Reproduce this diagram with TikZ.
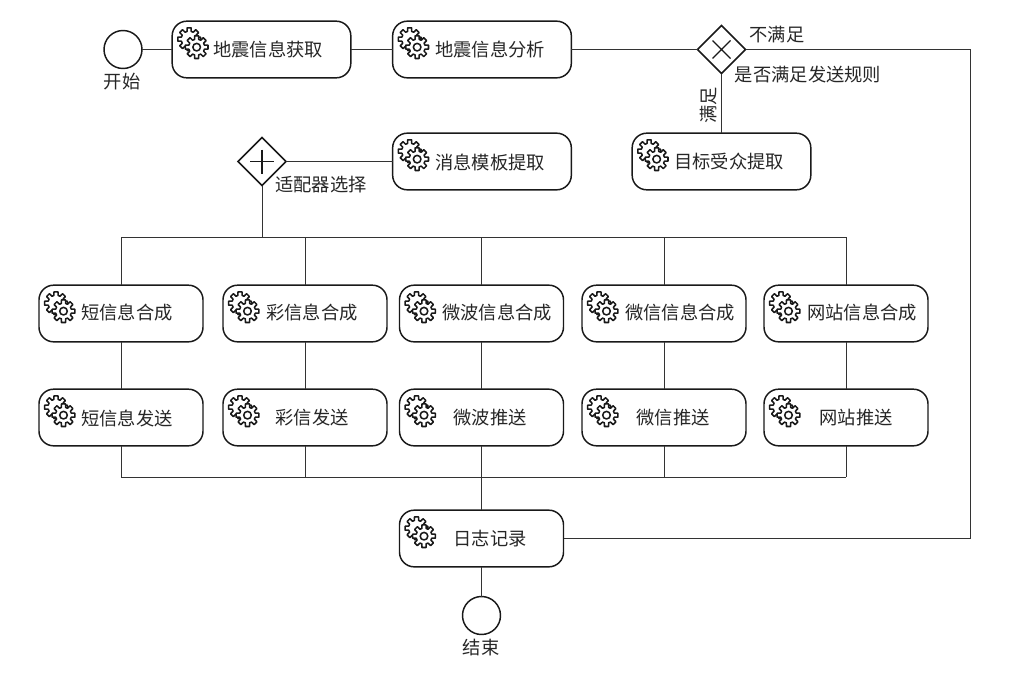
\documentclass[tikz,border=0pt]{standalone}
\usepackage{fontspec}
\usepackage{tikz}
\usetikzlibrary{shapes.geometric}
\newfontfamily\cjk{Noto Sans CJK SC}

\tikzset{
	gearline/.style={line width=1.15pt, fill=white, line join=round},
	gearwheel/.pic={
		\draw[gearline] (-15:8) foreach \a in {0,45,...,315} {-- (\a-15:8) -- (\a-10:11.5) -- (\a+10:11.5) -- (\a+15:8)} -- cycle;
	},
	gearicon/.pic={
		\pic at (11,11) {gearwheel};
		\pic at (18.5,19) {gearwheel};
		\draw[gearline] (18.5,19) circle (3.8);
	},
	taskbox/.style={draw=black!90, line width=1.1pt, rounded corners=11pt, minimum height=42.5pt, inner sep=0pt, outer sep=0pt,
		path picture={\pic[rounded corners=0pt] at ([shift={(6,7)}]path picture bounding box.north west) {gearicon};}},
	widebox/.style={taskbox, minimum width=134pt},
	smallbox/.style={taskbox, minimum width=123pt},
	event/.style={circle, draw=black!90, line width=1.1pt, minimum size=28.5pt, inner sep=0pt, outer sep=0pt},
	gate/.style={diamond, aspect=1, draw=black!90, line width=1.1pt, minimum width=36pt, minimum height=36pt, inner sep=0pt, outer sep=0pt},
	xgate/.style={gate, path picture={\draw[line width=1pt] (path picture bounding box.center) ++(-9,-9) -- ++(18,18) ++(-18,0) -- ++(18,-18);}},
	plusgate/.style={gate, path picture={\draw[line width=1pt] (path picture bounding box.center) ++(-12,0) -- ++(24,0) ++(-12,-12) -- ++(0,24);}},
	txt/.style={font=\cjk\fontsize{13.7}{16}\selectfont, text=black!85, inner sep=0pt},
	conn/.style={line width=0.7pt, draw=black!80}
}

\begin{document}
\begin{tikzpicture}[x=0.75pt, y=-0.75pt]
	\useasboundingbox (0,0) rectangle (1018,675);
	% top row
	\node[event] (start) at (123,49.5) {};
	\node[txt] (startlbl) at (122,82) {开始};
	\node[widebox] (dzhq) at (261.5,49.5) {};
	\node[txt] (dzhqlbl) at (268,50) {地震信息获取};
	\node[widebox] (dzfx) at (482,49.5) {};
	\node[txt] (dzfxlbl) at (490,50) {地震信息分析};
	\node[xgate] (rule) at (721.5,49.5) {};
	\node[txt] (nolbl) at (777,35) {不满足};
	\node[txt] (rulelbl) at (808,75) {是否满足发送规则};
	\node[txt, rotate=90] (yeslbl) at (709,105) {满足};
	\node[widebox] (mbsz) at (721.5,161.5) {};
	\node[txt] (mbszlbl) at (729,162) {目标受众提取};
	% adapter
	\node[widebox] (xxmb) at (482,161.5) {};
	\node[txt] (xxmblbl) at (490,162) {消息模板提取};
	\node[plusgate] (adapter) at (262,161.5) {};
	\node[txt] (adapterlbl) at (321,185) {适配器选择};
	% channel tasks
	\node[smallbox] (dxhc) at (121,313.5) {};
	\node[txt] (dxhclbl) at (127,313) {短信息合成};
	\node[smallbox] (dxfs) at (121,417.5) {};
	\node[txt] (dxfslbl) at (127,418) {短信息发送};
	\node[smallbox] (cxhc) at (305,313.5) {};
	\node[txt] (cxhclbl) at (312,313) {彩信息合成};
	\node[smallbox] (cxfs) at (305,417.5) {};
	\node[txt] (cxfslbl) at (312,418) {彩信发送};
	\node[smallbox] (wbhc) at (481.5,313.5) {};
	\node[txt] (wbhclbl) at (497,313) {微波信息合成};
	\node[smallbox] (wbfs) at (481.5,417.5) {};
	\node[txt] (wbfslbl) at (490,418) {微波推送};
	\node[smallbox] (wxhc) at (664,313.5) {};
	\node[txt] (wxhclbl) at (680,313) {微信信息合成};
	\node[smallbox] (wxfs) at (664,417.5) {};
	\node[txt] (wxfslbl) at (673,418) {微信推送};
	\node[smallbox] (wzhc) at (846,313.5) {};
	\node[txt] (wzhclbl) at (862,313) {网站信息合成};
	\node[smallbox] (wzfs) at (846,417.5) {};
	\node[txt] (wzfslbl) at (856,418) {网站推送};
	% end
	\node[smallbox] (rzjl) at (481.5,538.5) {};
	\node[txt] (rzjllbl) at (490,539) {日志记录};
	\node[event] (stop) at (481.5,615.5) {};
	\node[txt] (stoplbl) at (481,648) {结束};
	% bus lines
	\coordinate (topl) at (121,237);
	\coordinate (topr) at (846,237);
	\coordinate (botl) at (121,477);
	\coordinate (botr) at (846,477);
	\coordinate (farr) at (970,49.5);
	\coordinate (farb) at (970,538.5);
	% connectors
	\draw[conn] (start) -- (dzhq);
	\draw[conn] (dzhq) -- (dzfx);
	\draw[conn] (dzfx) -- (rule);
	\draw[conn] (rule) -- (mbsz);
	\draw[conn] (rule.east) -- (farr) -- (farb) -- (rzjl.east);
	\draw[conn] (xxmb.west) -- (adapter.east);
	\draw[conn] (adapter.south) -- (adapter.south |- topl);
	\draw[conn] (topl) -- (topr);
	\draw[conn] (botl) -- (botr);
	\foreach \ch in {dx,cx,wb,wx,wz}{
		\draw[conn] (\ch hc.north) -- (\ch hc.north |- topl);
		\draw[conn] (\ch hc.south) -- (\ch fs.north);
		\draw[conn] (\ch fs.south) -- (\ch fs.south |- botl);
	}
	\draw[conn] (rzjl.north |- botl) -- (rzjl.north);
	\draw[conn] (rzjl.south) -- (stop.north);
\end{tikzpicture}
\end{document}
